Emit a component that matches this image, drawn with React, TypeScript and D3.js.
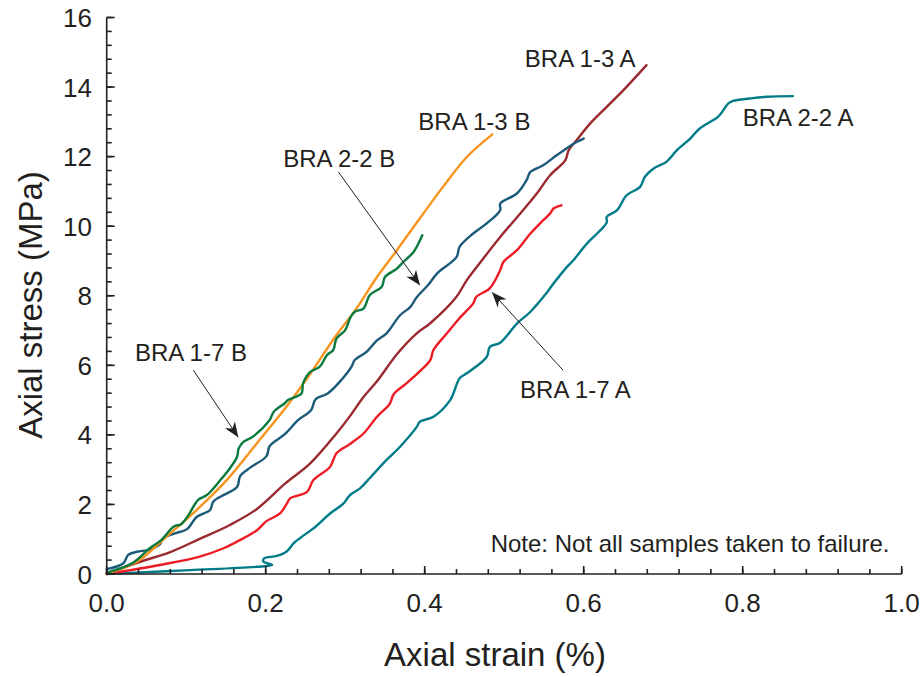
import React from 'react';
import * as d3 from 'd3';

const W = 923;
const H = 677;
const X0 = 106.7, X1 = 901.7, Y0 = 574, Y1 = 17.5;

const X_TICKS = [0, 0.2, 0.4, 0.6, 0.8, 1.0];
const Y_TICKS = [0, 2, 4, 6, 8, 10, 12, 14, 16];
const X_MINOR = d3.range(0, 1.0001, 0.04);
const Y_MINOR = d3.range(0, 16.0001, 0.4);

// [axial strain (%), axial stress (MPa)]
const bra17B: [number, number][] = [
  [0, 0.04], [0.033, 0.32], [0.054, 0.74], [0.069, 0.98], [0.084, 1.36], [0.094, 1.44],
  [0.103, 1.7], [0.115, 2.13], [0.126, 2.27], [0.143, 2.7], [0.155, 3.04], [0.164, 3.37],
  [0.166, 3.61], [0.172, 3.8], [0.184, 3.95], [0.205, 4.43], [0.21, 4.66], [0.224, 4.91],
  [0.228, 5.0], [0.245, 5.19], [0.247, 5.48], [0.256, 5.81], [0.268, 5.96], [0.277, 6.29],
  [0.285, 6.44], [0.289, 6.77], [0.3, 7.01], [0.306, 7.35], [0.312, 7.54], [0.323, 7.63],
  [0.331, 8.02], [0.346, 8.26], [0.35, 8.54], [0.365, 8.78], [0.373, 8.97], [0.386, 9.26],
  [0.397, 9.74],
];

const bra13B: [number, number][] = [
  [0, 0.01], [0.038, 0.35], [0.075, 1.07], [0.113, 1.84], [0.151, 2.7], [0.189, 3.76],
  [0.226, 4.81], [0.252, 5.62], [0.289, 6.87], [0.314, 7.63], [0.34, 8.54], [0.365, 9.31],
  [0.394, 10.23], [0.423, 11.13], [0.453, 11.99], [0.485, 12.64],
];

const bra22B: [number, number][] = [
  [0, 0.14], [0.021, 0.31], [0.027, 0.55], [0.038, 0.64], [0.054, 0.7], [0.067, 0.86],
  [0.071, 1.03], [0.086, 1.17], [0.101, 1.29], [0.113, 1.64], [0.13, 1.84], [0.134, 2.08],
  [0.147, 2.27], [0.164, 2.5], [0.168, 2.82], [0.18, 3.05], [0.201, 3.39], [0.205, 3.68],
  [0.224, 4.02], [0.241, 4.43], [0.257, 4.71], [0.263, 5.03], [0.278, 5.19], [0.296, 5.6],
  [0.308, 5.96], [0.312, 6.15], [0.327, 6.39], [0.34, 6.72], [0.352, 6.92], [0.369, 7.44],
  [0.382, 7.68], [0.39, 7.96], [0.404, 8.3], [0.416, 8.65], [0.44, 9.11], [0.444, 9.41],
  [0.461, 9.79], [0.478, 10.08], [0.495, 10.46], [0.495, 10.65], [0.516, 10.94],
  [0.528, 11.32], [0.533, 11.56], [0.549, 11.75], [0.566, 12.04], [0.581, 12.28],
  [0.591, 12.42], [0.6, 12.52],
];

const bra13A: [number, number][] = [
  [0, 0], [0.042, 0.35], [0.08, 0.63], [0.117, 1.01], [0.155, 1.41], [0.189, 1.87],
  [0.224, 2.59], [0.256, 3.18], [0.289, 4.04], [0.306, 4.54], [0.323, 5.09], [0.341, 5.57],
  [0.365, 6.32], [0.39, 6.92], [0.407, 7.21], [0.44, 7.97], [0.453, 8.45], [0.474, 9.08],
  [0.495, 9.69], [0.52, 10.36], [0.541, 10.94], [0.558, 11.47], [0.577, 11.9], [0.581, 12.18],
  [0.591, 12.47], [0.608, 12.95], [0.629, 13.43], [0.65, 13.91], [0.679, 14.63],
];

const bra17A: [number, number][] = [
  [0, 0], [0.067, 0.26], [0.117, 0.5], [0.147, 0.74], [0.168, 0.98], [0.189, 1.26],
  [0.201, 1.52], [0.218, 1.74], [0.227, 2.04], [0.231, 2.18], [0.252, 2.36], [0.26, 2.7],
  [0.281, 3.08], [0.289, 3.47], [0.306, 3.74], [0.323, 4.04], [0.34, 4.52], [0.356, 4.89],
  [0.361, 5.17], [0.377, 5.48], [0.394, 5.83], [0.407, 6.15], [0.411, 6.44], [0.428, 6.92],
  [0.444, 7.36], [0.461, 7.78], [0.465, 7.97], [0.482, 8.22], [0.495, 8.74], [0.499, 8.97],
  [0.516, 9.31], [0.533, 9.79], [0.549, 10.17], [0.558, 10.37], [0.562, 10.51], [0.572, 10.6],
];

const bra22A: [number, number][] = [
  [0, 0], [0.105, 0.11], [0.201, 0.23], [0.208, 0.26], [0.197, 0.36], [0.198, 0.45],
  [0.214, 0.52], [0.226, 0.64], [0.235, 0.88], [0.243, 1.03], [0.26, 1.31], [0.281, 1.74],
  [0.298, 2.03], [0.306, 2.27], [0.319, 2.47], [0.331, 2.76], [0.352, 3.28], [0.369, 3.66],
  [0.39, 4.23], [0.394, 4.38], [0.411, 4.52], [0.432, 5.0], [0.444, 5.63], [0.453, 5.77],
  [0.478, 6.24], [0.482, 6.53], [0.495, 6.65], [0.516, 7.2], [0.533, 7.54], [0.553, 8.07],
  [0.562, 8.35], [0.579, 8.83], [0.587, 9.02], [0.604, 9.5], [0.62, 9.86], [0.629, 10.11],
  [0.629, 10.27], [0.642, 10.46], [0.654, 10.89], [0.671, 11.13], [0.677, 11.42],
  [0.688, 11.66], [0.704, 11.85], [0.717, 12.18], [0.734, 12.52], [0.746, 12.81],
  [0.763, 13.05], [0.771, 13.19], [0.782, 13.53], [0.788, 13.6], [0.809, 13.67],
  [0.83, 13.72], [0.863, 13.74],
];

const SERIES = [
  { name: 'BRA 2-2 A', data: bra22A, color: '#007b88' },
  { name: 'BRA 1-7 A', data: bra17A, color: '#ed1c24' },
  { name: 'BRA 1-3 A', data: bra13A, color: '#9b2a30' },
  { name: 'BRA 2-2 B', data: bra22B, color: '#1c5a7a' },
  { name: 'BRA 1-3 B', data: bra13B, color: '#f7941d' },
  { name: 'BRA 1-7 B', data: bra17B, color: '#0a7a3e' },
];

const LABELS = [
  { text: 'BRA 1-3 A', x: 0.526, y: 14.57 },
  { text: 'BRA 1-3 B', x: 0.392, y: 12.76 },
  { text: 'BRA 2-2 B', x: 0.222, y: 11.7 },
  { text: 'BRA 1-7 B', x: 0.0355, y: 6.12 },
  { text: 'BRA 1-7 A', x: 0.52, y: 5.06 },
  { text: 'BRA 2-2 A', x: 0.8, y: 12.87 },
];

const ARROWS = [
  { from: [0.2914, 11.56], to: [0.394, 8.3] },
  { from: [0.109, 5.86], to: [0.1655, 3.93] },
  { from: [0.574, 5.86], to: [0.4847, 8.1] },
];

const NOTE = { text: 'Note: Not all samples taken to failure.', x: 0.483, y: 0.63 };

const INK = '#231f20';
const FONT = 'Liberation Sans, Arial, Helvetica, sans-serif';

export default function App() {
  const x = d3.scaleLinear().domain([0, 1]).range([X0, X1]);
  const y = d3.scaleLinear().domain([0, 16]).range([Y0, Y1]);
  const line = d3
    .line<[number, number]>()
    .x((d) => x(d[0]))
    .y((d) => y(d[1]))
    .curve(d3.curveCatmullRom.alpha(0.5));

  const arrowHead = (fx: number, fy: number, tx: number, ty: number) => {
    const ang = Math.atan2(ty - fy, tx - fx);
    const len = 15, half = 6;
    const bx = tx - len * Math.cos(ang), by = ty - len * Math.sin(ang);
    const nx = -Math.sin(ang), ny = Math.cos(ang);
    const ix = tx - 0.7 * len * Math.cos(ang), iy = ty - 0.7 * len * Math.sin(ang);
    return `M${tx},${ty}L${bx + nx * half},${by + ny * half}L${ix},${iy}L${bx - nx * half},${by - ny * half}Z`;
  };

  return (
    <svg width={W} height={H} style={{ position: 'absolute', left: 0, top: 0, background: '#fff' }} fontFamily={FONT}>
      <rect width={W} height={H} fill="#fff" />
      {/* curves */}
      {SERIES.map((s) => (
        <path key={s.name} d={line(s.data) || ''} fill="none" stroke={s.color} strokeWidth={2.4} strokeLinejoin="round" strokeLinecap="round" />
      ))}
      {/* axes */}
      <g stroke={INK} strokeWidth={1.6} fill="none">
        <line x1={X0} x2={X1} y1={Y0} y2={Y0} />
        <line x1={X0} x2={X0} y1={Y0} y2={Y1} />
        {X_MINOR.map((v, i) => (
          <line key={'xm' + i} x1={x(v)} x2={x(v)} y1={Y0} y2={Y0 - 5} />
        ))}
        {X_TICKS.map((v) => (
          <line key={'xt' + v} x1={x(v)} x2={x(v)} y1={Y0} y2={Y0 - 8} />
        ))}
        {Y_MINOR.map((v, i) => (
          <line key={'ym' + i} x1={X0} x2={X0 + 5} y1={y(v)} y2={y(v)} />
        ))}
        {Y_TICKS.map((v) => (
          <line key={'yt' + v} x1={X0} x2={X0 + 8} y1={y(v)} y2={y(v)} />
        ))}
      </g>
      {X_TICKS.map((v) => (
        <text key={'xl' + v} x={x(v)} y={612} textAnchor="middle" fontSize={26} fill={INK}>
          {v.toFixed(1)}
        </text>
      ))}
      {Y_TICKS.map((v) => (
        <text key={'yl' + v} x={92} y={y(v) + 9.5} textAnchor="end" fontSize={26} fill={INK}>
          {v}
        </text>
      ))}
      <text x={495} y={666} textAnchor="middle" fontSize={33} fill={INK}>
        Axial strain (%)
      </text>
      <text transform={`translate(42,305) rotate(-90)`} textAnchor="middle" fontSize={33} fill={INK}>
        Axial stress (MPa)
      </text>
      {/* labels */}
      {LABELS.map((l) => (
        <text key={l.text} x={x(l.x)} y={y(l.y)} fontSize={24} fill={INK}>
          {l.text}
        </text>
      ))}
      <text x={x(NOTE.x)} y={y(NOTE.y)} fontSize={24} fill={INK}>
        {NOTE.text}
      </text>
      {/* arrows */}
      {ARROWS.map((a, i) => {
        const fx = x(a.from[0]), fy = y(a.from[1]), tx = x(a.to[0]), ty = y(a.to[1]);
        return (
          <g key={'ar' + i}>
            <line x1={fx} y1={fy} x2={tx} y2={ty} stroke={INK} strokeWidth={1} />
            <path d={arrowHead(fx, fy, tx, ty)} fill={INK} />
          </g>
        );
      })}
    </svg>
  );
}
